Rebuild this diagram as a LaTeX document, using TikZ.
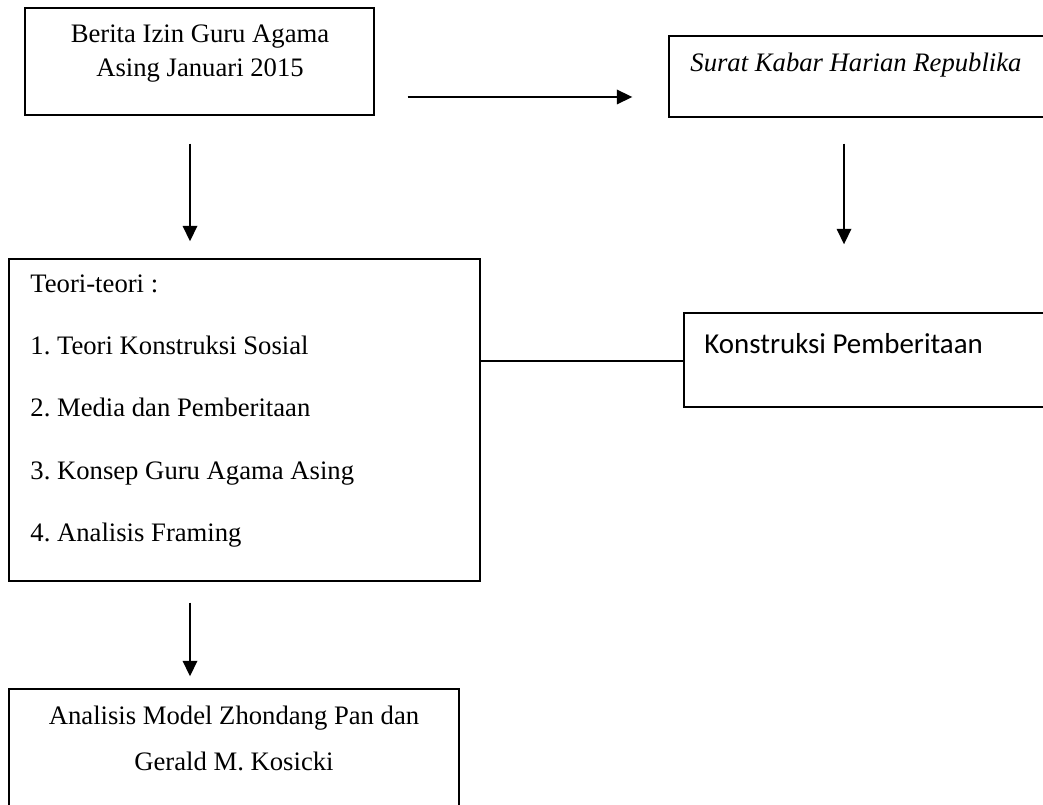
\documentclass[tikz,border=0pt]{standalone}
\usepackage{fontspec}
\setmainfont{Liberation Serif}
\newfontfamily\calibri{Carlito}
\usetikzlibrary{arrows.meta,fit}
\frenchspacing

\begin{document}
\begin{tikzpicture}[x=0.45pt,y=-0.45pt,
    box/.style={draw,line width=0.6pt,inner sep=0pt},
    txt/.style={inner sep=0pt,font=\fontsize{12pt}{14pt}\selectfont},
    arr/.style={line width=0.9pt,-{Triangle[length=7pt,width=6.5pt]}}]
        \useasboundingbox (0,0) rectangle (1043,805);
        \clip (0,0) rectangle (1043,805);
        \node[box,fit={(25,8) (374,115)}] (berita) {};
        \node[box,fit={(669,36) (1070,117)}] (surat) {};
        \node[box,fit={(9,259) (480,581)}] (teori) {};
        \node[box,fit={(684,313) (1070,407)}] (konstruksi) {};
        \node[box,fit={(9,689) (459,840)}] (analisis) {};
        \node[txt,anchor=base] (berita1) at (200,43) {Berita Izin Guru Agama};
        \node[txt,anchor=base] (berita2) at (200,77) {Asing Januari 2015};
        \node[txt,anchor=base west] (suratT) at (690,72) {\itshape Surat Kabar Harian Republika};
        \node[txt,anchor=base west] (teori0) at (30,293) {Teori-teori :};
        \node[txt,anchor=base west] (teori1) at (30,355) {1. Teori Konstruksi Sosial};
        \node[txt,anchor=base west] (teori2) at (30,417) {2. Media dan Pemberitaan};
        \node[txt,anchor=base west] (teori3) at (30,479) {3. Konsep Guru Agama Asing};
        \node[txt,anchor=base west] (teori4) at (30,541) {4. Analisis Framing};
        \node[txt,anchor=base west,font=\calibri\fontsize{13pt}{15pt}\selectfont] (konstruksiT) at (704,354) {Konstruksi Pemberitaan};
        \node[txt,anchor=base] (analisis1) at (234,724) {Analisis Model Zhondang Pan dan};
        \node[txt,anchor=base] (analisis2) at (234,770) {Gerald M. Kosicki};
        \draw[arr,shorten <=14.85pt,shorten >=16.2pt] (berita.east |- 0,97) -- (surat.west |- 0,97);
        \draw[arr,shorten <=12.6pt,shorten >=7.65pt] (190,0 |- berita.south) -- (190,0 |- teori.north);
        \draw[arr,shorten <=11.7pt,shorten >=30.6pt] (844,0 |- surat.south) -- (844,0 |- konstruksi.north);
        \draw[line width=0.6pt] (teori.east |- 0,361) -- (konstruksi.west |- 0,361);
        \draw[arr,shorten <=9.45pt,shorten >=5.4pt] (190,0 |- teori.south) -- (190,0 |- analisis.north);
    \end{tikzpicture}
\end{document}
